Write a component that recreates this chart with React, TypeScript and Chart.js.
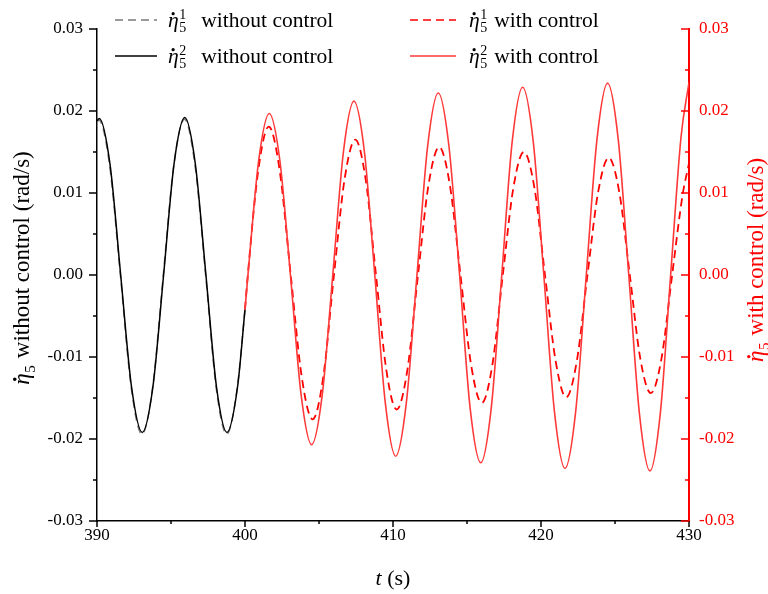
import React, { useEffect, useRef } from 'react';
import { Chart, registerables } from 'chart.js';

Chart.register(...registerables);

const FONT = '"Liberation Serif", "Times New Roman", Times, serif';

// ---- data ----
const tBlack1 = [390.0, 390.12, 390.85, 391.58, 392.31, 393.04, 393.76, 394.48, 395.19, 395.91, 396.62, 397.34, 398.05, 398.76, 399.48, 400.0];
const vBlack1 = [0.0186, 0.0189, 0.0134, 0, -0.0137, -0.0194, -0.0137, 0, 0.0134, 0.019, 0.0134, 0, -0.0137, -0.0194, -0.0137, -0.0042];

const tBlack2 = [390.0, 390.15, 390.88, 391.6, 392.33, 393.06, 393.78, 394.5, 395.21, 395.93, 396.64, 397.36, 398.07, 398.78, 399.5, 400.0];
const vBlack2 = [0.0188, 0.0191, 0.0135, 0, -0.0136, -0.0192, -0.0136, 0, 0.0136, 0.0192, 0.0136, 0, -0.0136, -0.0192, -0.0136, -0.0042];

const tRed1 = [400.0, 400.19, 400.9, 401.6, 402.34, 403.09, 403.83, 404.57, 405.29, 406.01, 406.73, 407.45, 408.15, 408.85, 409.55, 410.25, 410.97, 411.69, 412.4, 413.12, 413.84, 414.56, 415.28, 416.0, 416.71, 417.42, 418.13, 418.84, 419.56, 420.27, 420.99, 421.7, 422.42, 423.14, 423.86, 424.58, 425.29, 426.0, 426.71, 427.42, 428.14, 428.86, 429.58, 430.0];
const vRed1 = [-0.0042, 0, 0.0128, 0.0181, 0.0128, 0, -0.0124, -0.0176, -0.0124, 0, 0.0117, 0.0165, 0.0117, 0, -0.0116, -0.0164, -0.0116, 0, 0.011, 0.0156, 0.011, 0, -0.011, -0.0156, -0.011, 0, 0.0106, 0.015, 0.0106, 0, -0.0105, -0.0149, -0.0105, 0, 0.0101, 0.0143, 0.0101, 0, -0.0102, -0.0144, -0.0102, 0, 0.0099, 0.0136];

const tRed2 = [400.0, 400.2, 400.92, 401.64, 402.36, 403.07, 403.79, 404.5, 405.22, 405.93, 406.65, 407.36, 408.07, 408.77, 409.48, 410.18, 410.9, 411.62, 412.34, 413.06, 413.78, 414.5, 415.21, 415.93, 416.64, 417.35, 418.05, 418.76, 419.48, 420.19, 420.91, 421.62, 422.34, 423.06, 423.78, 424.5, 425.22, 425.93, 426.65, 427.36, 428.06, 428.76, 429.46, 430.0];
const vRed2 = [-0.0042, 0, 0.0139, 0.0197, 0.0139, 0, -0.0146, -0.0207, -0.0146, 0, 0.015, 0.0212, 0.015, 0, -0.0156, -0.0221, -0.0156, 0, 0.0157, 0.0222, 0.0157, 0, -0.0162, -0.0229, -0.0162, 0, 0.0162, 0.0229, 0.0162, 0, -0.0167, -0.0236, -0.0167, 0, 0.0165, 0.0234, 0.0165, 0, -0.0169, -0.0239, -0.0169, 0, 0.0168, 0.0235];

const xTicks = [390, 400, 410, 420, 430];
const yTicks = [-0.03, -0.02, -0.01, 0, 0.01, 0.02, 0.03];
const xMinorTicks = [395, 405, 415, 425];
const yMinorTicks = [-0.025, -0.015, -0.005, 0.005, 0.015, 0.025];

const legendLabels = ['without control', 'without control', 'with control', 'with control'];
const legendSup = ['1', '2', '1', '2'];
const leftTitle = 'without control (rad/s)';
const rightTitle = 'with control (rad/s)';

const RED = '#ff0000';
const RED_SOLID = '#ff3838';
const GRAY = '#7a7a7a';
const DASH = [8, 5];

function toPts(t: number[], v: number[]) {
  return t.map((x, i) => ({ x, y: v[i] }));
}

function richEta(ctx: CanvasRenderingContext2D, x: number, base: number, size: number, sup: string | null, rest: string, gap: number, draw: boolean) {
  let cx = x;
  ctx.font = `italic ${size}px ${FONT}`;
  const ew = ctx.measureText('η').width;
  if (draw) {
    ctx.fillText('η', cx, base);
    ctx.beginPath();
    ctx.arc(cx + ew * 0.48, base - size * 0.62, size * 0.075, 0, Math.PI * 2);
    ctx.fill();
  }
  cx += ew + size * 0.03;
  const ss = Math.round(size * 0.64);
  ctx.font = `${ss}px ${FONT}`;
  const w5 = ctx.measureText('5').width;
  let ws = 0;
  if (draw) ctx.fillText('5', cx, base + size * 0.24);
  if (sup) {
    ws = ctx.measureText(sup).width;
    if (draw) ctx.fillText(sup, cx, base - size * 0.36);
  }
  cx += Math.max(w5, ws) + gap;
  ctx.font = `${size}px ${FONT}`;
  if (draw) ctx.fillText(rest, cx, base);
  cx += ctx.measureText(rest).width;
  return cx - x;
}

const decoPlugin = {
  id: 'deco',
  afterDraw(chart: any) {
    const ctx: CanvasRenderingContext2D = chart.ctx;
    const ca = chart.chartArea;
    const xs = chart.scales.x;
    const yl = chart.scales.y;
    ctx.save();
    ctx.textBaseline = 'alphabetic';
    ctx.textAlign = 'left';

    // ticks
    ctx.lineWidth = 1.5;
    ctx.strokeStyle = '#000';
    const yAll = [...yTicks.map((v) => [v, 8]), ...yMinorTicks.map((v) => [v, 4])];
    for (const [v, len] of yAll) {
      const y = yl.getPixelForValue(v);
      ctx.beginPath();
      ctx.moveTo(ca.left, y);
      ctx.lineTo(ca.left - len, y);
      ctx.stroke();
    }
    const xAll = [...xTicks.map((v) => [v, 6]), ...xMinorTicks.map((v) => [v, 3])];
    for (const [v, len] of xAll) {
      const x = xs.getPixelForValue(v);
      ctx.beginPath();
      ctx.moveTo(x, ca.bottom);
      ctx.lineTo(x, ca.bottom + len);
      ctx.stroke();
    }
    ctx.strokeStyle = RED;
    for (const [v, len] of yAll) {
      const y = chart.scales.y1.getPixelForValue(v);
      ctx.beginPath();
      ctx.moveTo(ca.right, y);
      ctx.lineTo(ca.right - len, y);
      ctx.stroke();
    }

    // legend
    const rows = [20, 56];
    const cols = [
      { x0: 115, x1: 157, tx: 168, gap: 15 },
      { x0: 410, x1: 456, tx: 469, gap: 7 },
    ];
    const styles = [
      { color: GRAY, dash: DASH },
      { color: '#000', dash: [] as number[] },
      { color: RED, dash: DASH },
      { color: RED_SOLID, dash: [] as number[] },
    ];
    for (let i = 0; i < 4; i++) {
      const col = cols[Math.floor(i / 2)];
      const ry = rows[i % 2];
      const st = styles[i];
      ctx.strokeStyle = st.color;
      ctx.lineWidth = 1.5;
      ctx.setLineDash(st.dash);
      ctx.beginPath();
      ctx.moveTo(col.x0, ry);
      ctx.lineTo(col.x1, ry);
      ctx.stroke();
      ctx.setLineDash([]);
      ctx.fillStyle = '#000';
      richEta(ctx, col.tx, ry + 7, 21.5, legendSup[i], legendLabels[i], col.gap, true);
    }

    // left title
    ctx.fillStyle = '#000';
    ctx.save();
    ctx.translate(29, 268);
    ctx.rotate(-Math.PI / 2);
    let w = richEta(ctx, 0, 0, 23, null, leftTitle, 7, false);
    richEta(ctx, -w / 2, 0, 23, null, leftTitle, 7, true);
    ctx.restore();

    // right title
    ctx.fillStyle = RED;
    ctx.save();
    ctx.translate(763, 260);
    ctx.rotate(-Math.PI / 2);
    w = richEta(ctx, 0, 0, 23, null, rightTitle, 7, false);
    richEta(ctx, -w / 2, 0, 23, null, rightTitle, 7, true);
    ctx.restore();

    // bottom title
    ctx.fillStyle = '#000';
    ctx.font = `italic 22px ${FONT}`;
    const wt = ctx.measureText('t').width;
    ctx.font = `22px ${FONT}`;
    const wr = ctx.measureText(' (s)').width;
    const bx = (ca.left + ca.right) / 2 - (wt + wr) / 2;
    ctx.font = `italic 22px ${FONT}`;
    ctx.fillText('t', bx, 585);
    ctx.font = `22px ${FONT}`;
    ctx.fillText(' (s)', bx + wt, 585);

    ctx.restore();
  },
};

export default function App() {
  const ref = useRef<HTMLCanvasElement | null>(null);
  useEffect(() => {
    document.body.style.margin = '0';
    const canvas = ref.current;
    if (!canvas) return;
    const tickFont = { family: FONT, size: 17 };
    const chart = new Chart(canvas, {
      type: 'line',
      data: {
        datasets: [
          {
            label: 'eta1 without control',
            data: toPts(tBlack1, vBlack1),
            yAxisID: 'y',
            borderColor: GRAY,
            borderDash: DASH,
            borderWidth: 1.5,
            order: 4,
          },
          {
            label: 'eta2 without control',
            data: toPts(tBlack2, vBlack2),
            yAxisID: 'y',
            borderColor: '#000',
            borderWidth: 1.5,
            order: 3,
          },
          {
            label: 'eta1 with control',
            data: toPts(tRed1, vRed1),
            yAxisID: 'y1',
            borderColor: RED,
            borderDash: DASH,
            borderWidth: 1.8,
            order: 2,
          },
          {
            label: 'eta2 with control',
            data: toPts(tRed2, vRed2),
            yAxisID: 'y1',
            borderColor: RED_SOLID,
            borderWidth: 1.6,
            order: 1,
          },
        ] as any,
      },
      options: {
        animation: false,
        responsive: false,
        maintainAspectRatio: false,
        elements: {
          point: { radius: 0 },
          line: { cubicInterpolationMode: 'monotone', fill: false },
        },
        layout: { padding: { top: 29, left: 0, right: 0, bottom: 0 } },
        plugins: {
          legend: { display: false },
          tooltip: { enabled: false },
        },
        scales: {
          x: {
            type: 'linear',
            position: 'bottom',
            min: 390,
            max: 430,
            afterFit: (s: any) => {
              s.height = 73;
            },
            afterBuildTicks: (s: any) => {
              s.ticks = xTicks.map((v) => ({ value: v }));
            },
            ticks: {
              font: tickFont,
              color: '#000',
              padding: 4,
              maxRotation: 0,
              autoSkip: false,
              callback: (v: any) => String(v),
            },
            grid: { display: false, drawTicks: false },
            border: { display: true, color: '#000', width: 1.5 },
          },
          y: {
            type: 'linear',
            position: 'left',
            min: -0.03,
            max: 0.03,
            afterFit: (s: any) => {
              s.width = 97;
            },
            afterBuildTicks: (s: any) => {
              s.ticks = yTicks.map((v) => ({ value: v }));
            },
            ticks: {
              font: tickFont,
              color: '#000',
              padding: 14,
              autoSkip: false,
              callback: (v: any) => Number(v).toFixed(2),
            },
            grid: { display: false, drawTicks: false },
            border: { display: true, color: '#000', width: 1.5 },
          },
          y1: {
            type: 'linear',
            position: 'right',
            min: -0.03,
            max: 0.03,
            afterFit: (s: any) => {
              s.width = 79;
            },
            afterBuildTicks: (s: any) => {
              s.ticks = yTicks.map((v) => ({ value: v }));
            },
            ticks: {
              font: tickFont,
              color: RED,
              padding: 10,
              autoSkip: false,
              callback: (v: any) => Number(v).toFixed(2),
            },
            grid: { display: false, drawTicks: false },
            border: { display: true, color: RED, width: 2 },
          },
        },
      } as any,
      plugins: [decoPlugin],
    });
    return () => chart.destroy();
  }, []);
  return (
    <div style={{ width: 768, height: 594, position: 'relative', background: '#fff' }}>
      <canvas ref={ref} width={768} height={594} style={{ display: 'block' }} />
    </div>
  );
}
